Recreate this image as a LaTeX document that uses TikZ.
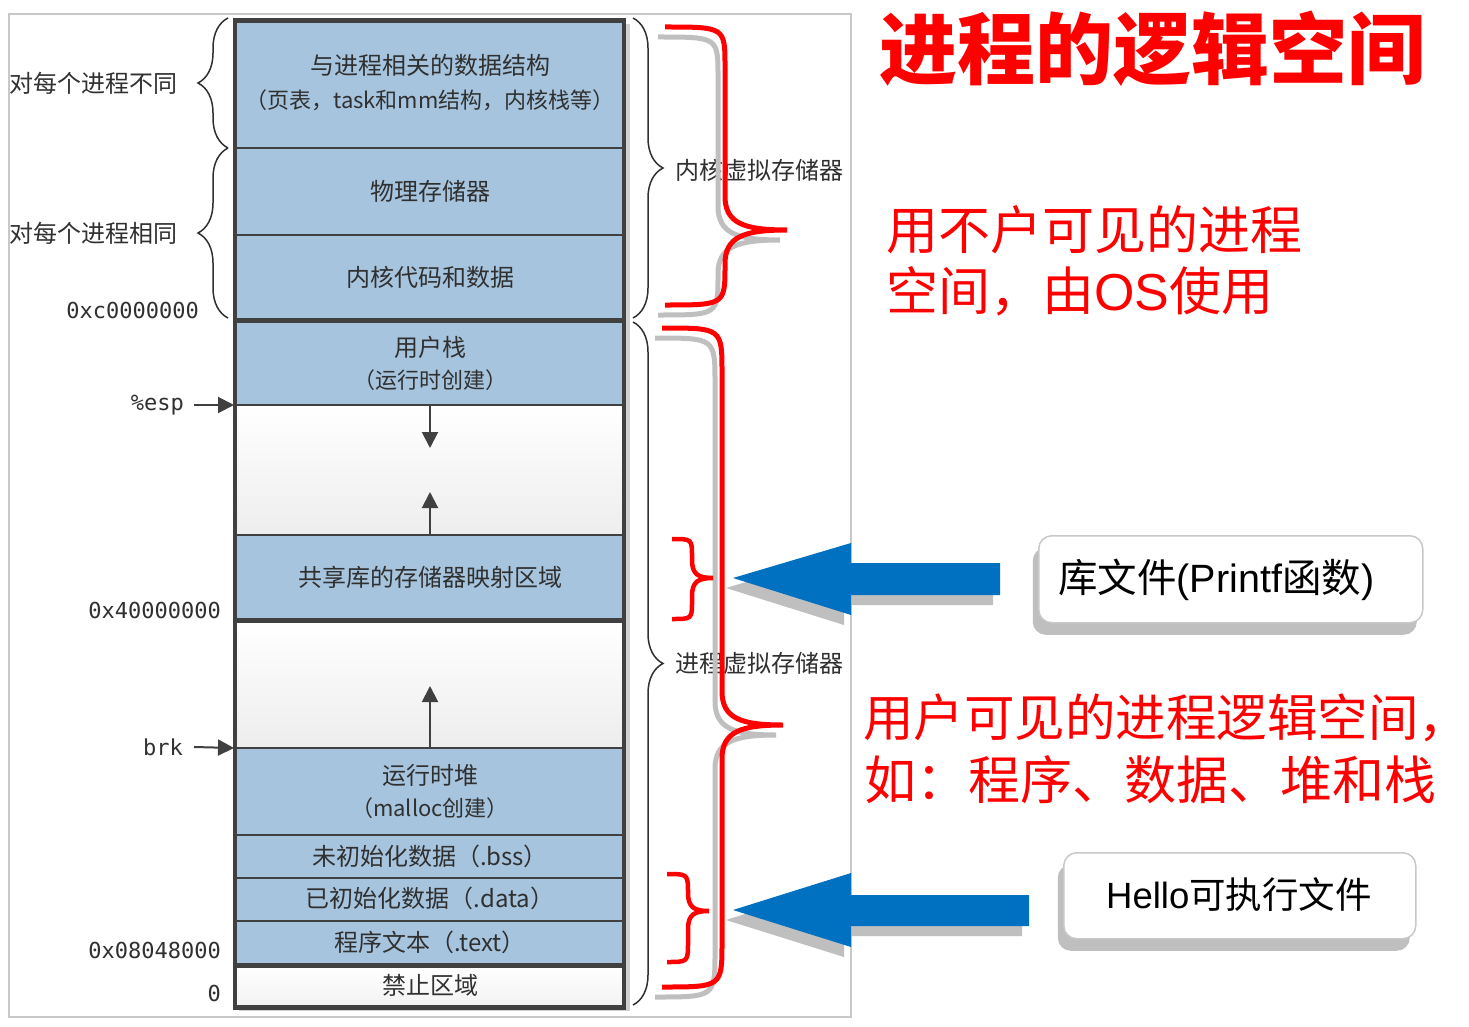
\documentclass[tikz,border=0pt]{standalone}
\usepackage{fontspec}
\setmainfont{Noto Sans CJK SC}
\newfontfamily\latf{Liberation Sans}
\newfontfamily\monof{DejaVu Sans Mono}
\usetikzlibrary{arrows.meta,decorations.pathreplacing,shadows}
\definecolor{memblue}{RGB}{166,196,222}
\definecolor{edge}{RGB}{64,64,64}
\definecolor{txt}{RGB}{48,48,48}
\definecolor{frm}{RGB}{200,200,200}
\definecolor{shd}{RGB}{191,191,191}
\definecolor{arrblue}{RGB}{0,112,192}
\definecolor{rd}{RGB}{255,0,0}
% xe xv xt yt ym yb rEnd rMid style
\newcommand{\redbrace}[9]{\draw[#9] (#1,#4) .. controls (#2,#4) .. (#2,#4+#7) -- (#2,#5-#8) .. controls (#2,#5-0.2*#8) and (#2+0.3*#3-0.3*#2,#5) .. (#3,#5) .. controls (#2+0.3*#3-0.3*#2,#5) and (#2,#5+0.2*#8) .. (#2,#5+#8) -- (#2,#6-#7) .. controls (#2,#6) .. (#1,#6);}
\begin{document}
\begin{tikzpicture}[x=1pt,y=-1pt,
  mt/.style={font=\fontsize{24pt}{28pt}\selectfont, text=txt, inner sep=0pt},
  mts/.style={font=\fontsize{22pt}{26pt}\selectfont, text=txt, inner sep=0pt},
  lab/.style={font=\fontsize{24pt}{28pt}\selectfont, text=txt, inner sep=0pt, anchor=west},
  adr/.style={font=\monof\fontsize{22pt}{26pt}\selectfont, text=txt, inner sep=0pt, anchor=east},
  thinsep/.style={draw=edge, line width=2pt},
  thicksep/.style={draw=edge, line width=5pt},
  ptr/.style={draw=edge, line width=2pt, -{Triangle[length=16pt,width=16pt]}},
  gbrace/.style={decorate, decoration={brace, amplitude=30pt}, draw=txt, line width=1.5pt},
  redbr/.style={draw=rd, line width=5pt},
  redsh/.style={draw=shd, line width=5pt, shift={(-7,10)}},
  blk/.style={fill=arrblue},
  blksh/.style={fill=shd, shift={(-7,10)}},
  callout/.style={draw=frm, line width=1.5pt, fill=white, rounded corners=13pt,
     drop shadow={shadow xshift=-6pt, shadow yshift=-12pt, fill=shd, opacity=1}},
  redt/.style={text=rd, inner sep=0pt, anchor=west, font=\fontsize{52pt}{60pt}\selectfont},
  gap/.style={top color=white, bottom color=black!7}
]
\useasboundingbox (0,0) rectangle (1469,1027);
\fill[white] (0,0) rectangle (1469,1027);
% outer frame
\draw[frm, line width=1.5pt] (9,14) rectangle (851,1017);
% column shadow
\fill[black!18] (239,24) rectangle (630,1011);
% fills
\fill[memblue] (235,20) rectangle (624,405);
\shade[gap] (235,405) rectangle (624,535);
\fill[memblue] (235,535) rectangle (624,620);
\shade[gap] (235,620) rectangle (624,748);
\fill[memblue] (235,748) rectangle (624,965);
\shade[top color=white, bottom color=black!5] (235,965) rectangle (624,1007);
% thin separators
\foreach \yy in {148,235,405,535,748,835,878,921}{\draw[thinsep] (235,\yy) -- (624,\yy);}
% thick separators and border
\foreach \yy in {320,620,965}{\draw[thicksep] (235,\yy) -- (624,\yy);}
\draw[edge, line width=4.5pt] (235,20.5) rectangle (624,1007.5);
% column texts
\node[mt]  (k1)  at (430,65)  {与进程相关的数据结构};
\node[mts] (k1b) at (430,100) {（页表，task和mm结构，内核栈等）};
\node[mt]  (k2)  at (430,191) {物理存储器};
\node[mt]  (k3)  at (430,277) {内核代码和数据};
\node[mt]  (u1)  at (430,347) {用户栈};
\node[mts] (u1b) at (430,380) {（运行时创建）};
\node[mt]  (u2)  at (430,577) {共享库的存储器映射区域};
\node[mt]  (u3)  at (430,775) {运行时堆};
\node[mts] (u3b) at (430,808) {（malloc创建）};
\node[mt]  (u4)  at (430,856) {未初始化数据（.bss）};
\node[mt]  (u5)  at (430,898) {已初始化数据（.data）};
\node[mt]  (u6)  at (430,942) {程序文本（.text）};
\node[mt]  (u7)  at (430,985) {禁止区域};
% growth arrows
\coordinate (g1s) at (430,405); \coordinate (g1e) at (430,448);
\coordinate (g2s) at (430,535); \coordinate (g2e) at (430,492);
\coordinate (g3s) at (430,748); \coordinate (g3e) at (430,686);
\draw[ptr] (g1s) -- (g1e);
\draw[ptr] (g2s) -- (g2e);
\draw[ptr] (g3s) -- (g3e);
% left labels
\node[lab] (diff) at (9,83)  {对每个进程不同};
\node[lab] (same) at (9,233) {对每个进程相同};
\node[adr] (ac0)  at (199,310) {0xc0000000};
\node[adr] (esp)  at (184,405) {\%esp};
\node[adr] (a40)  at (221,610) {0x40000000};
\node[adr] (brk)  at (183,747) {brk};
\node[adr] (a08)  at (221,950) {0x08048000};
\node[adr] (a00)  at (221,993) {0};
\coordinate (espT) at (234,405);
\coordinate (brkT) at (234,748);
\draw[ptr] ([xshift=10pt]esp.east) -- (espT);
\draw[ptr] ([xshift=11pt]brk.east) -- (brkT);
% grey braces
\draw[gbrace] (228,148) -- (228,18);
\draw[gbrace] (228,318) -- (228,148);
\draw[gbrace] (633,18) -- (633,318);
\draw[gbrace] (633,322) -- (633,1005);
\node[lab] (kv) at (675,170) {内核虚拟存储器};
\node[lab] (pv) at (675,663) {进程虚拟存储器};
% red braces with shadows
\redbrace{665}{725}{787}{27}{230}{305}{40}{34}{redsh}
\redbrace{665}{725}{787}{27}{230}{305}{40}{34}{redbr}
\redbrace{662}{722}{783}{328}{725}{987}{45}{34}{redsh}
\redbrace{662}{722}{783}{328}{725}{987}{45}{34}{redbr}
\redbrace{672}{692}{713}{539}{578}{619}{18}{18}{draw=rd, line width=4.5pt}
\redbrace{667}{688}{709}{874}{911}{962}{20}{18}{draw=rd, line width=4.5pt}
% blue block arrows
\fill[blksh] (733,578) -- (851,543) -- (851,563) -- (1000,563) -- (1000,595) -- (851,595) -- (851,615) -- cycle;
\fill[blk]   (733,578) -- (851,543) -- (851,563) -- (1000,563) -- (1000,595) -- (851,595) -- (851,615) -- cycle;
\fill[blksh] (733,910) -- (851,873) -- (851,895) -- (1029,895) -- (1029,926) -- (851,926) -- (851,947) -- cycle;
\fill[blk]   (733,910) -- (851,873) -- (851,895) -- (1029,895) -- (1029,926) -- (851,926) -- (851,947) -- cycle;
% callout boxes
\node[callout, anchor=north west, minimum width=384pt, minimum height=87pt] (libbox) at (1038,535) {};
\node[inner sep=0pt, anchor=west, font=\fontsize{39.5pt}{44pt}\selectfont] (libtxt) at (1058,580) {库文件{\latf(Printf}函数{\latf)}};
\node[callout, anchor=north west, minimum width=352pt, minimum height=86pt] (hellobox) at (1063,852) {};
\node[inner sep=0pt, font=\fontsize{36.5pt}{40pt}\selectfont] (hellotxt) at (1239,895) {{\latf Hello}可执行文件};
% red notes
\node[redt] (r1a) at (886,230) {用不户可见的进程};
\node[redt] (r1b) at (886,291) {空间，由{\latf OS}使用};
\node[redt, font=\fontsize{50.5pt}{60pt}\selectfont] (r2a) at (863,718) {用户可见的进程逻辑空间，};
\node[redt] (r2b) at (864,780) {如：程序、数据、堆和栈};
% title
\node[text=rd, inner sep=0pt, anchor=west, font=\fontsize{78pt}{84pt}\selectfont\bfseries] (title) at (879,49) {进程的逻辑空间};
\end{tikzpicture}
\end{document}
